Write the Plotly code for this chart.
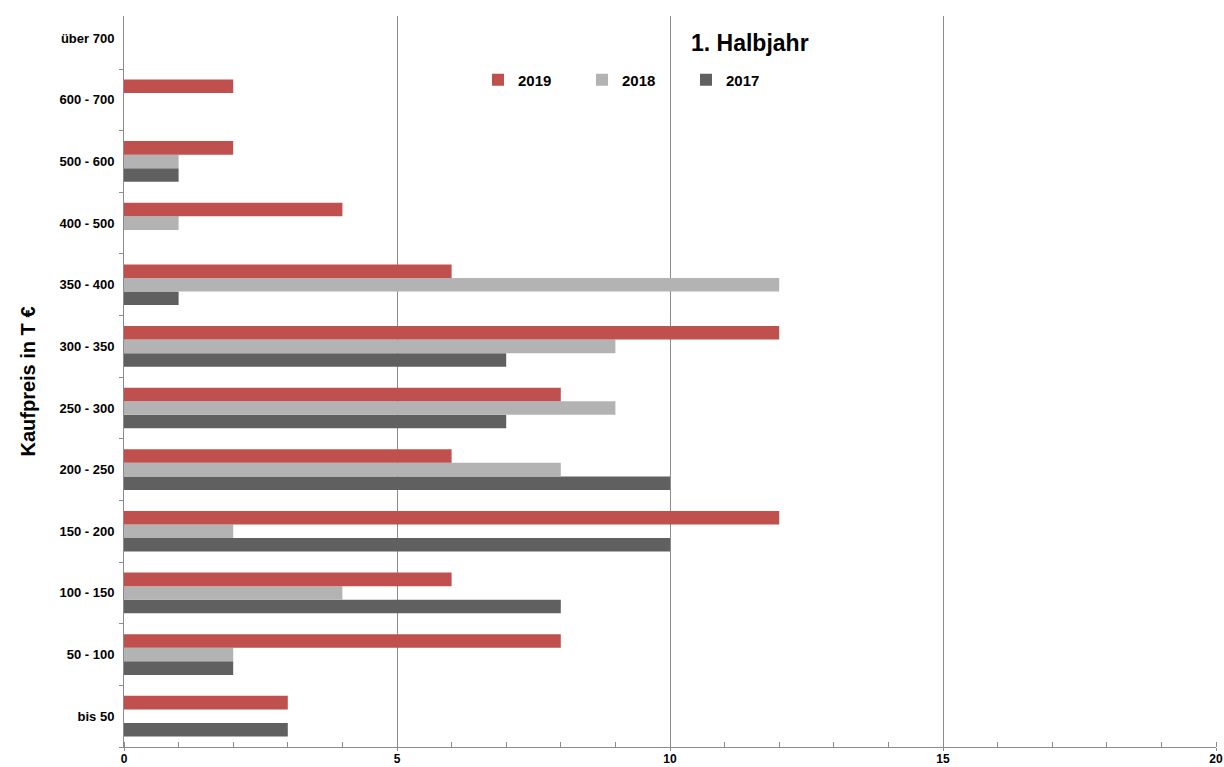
import plotly.graph_objects as go

categories = ["bis 50", "50 - 100", "100 - 150", "150 - 200", "200 - 250",
              "250 - 300", "300 - 350", "350 - 400", "400 - 500", "500 - 600",
              "600 - 700", "über 700"]
values_2019 = [3, 8, 6, 12, 6, 8, 12, 6, 4, 2, 2, 0]
values_2018 = [0, 2, 4, 2, 8, 9, 9, 12, 1, 1, 0, 0]
values_2017 = [3, 2, 8, 10, 10, 7, 7, 1, 0, 1, 0, 0]

series = [
    ("2017", values_2017, "#606060"),
    ("2018", values_2018, "#B3B3B3"),
    ("2019", values_2019, "#C0504D"),
]

W, H = 1224, 767
L, R, T, B = 124, 8, 16, 20
plot_w, plot_h = W - L - R, H - T - B

fig = go.Figure()
for name, vals, color in series:
    fig.add_trace(go.Bar(
        y=categories, x=vals, name=name, orientation="h",
        marker=dict(color=color, line=dict(width=0)),
    ))

fig.update_layout(
    width=W, height=H,
    margin=dict(l=L, r=R, t=T, b=B),
    paper_bgcolor="white", plot_bgcolor="white",
    barmode="group", bargap=0.34, bargroupgap=0,
    font=dict(family="Liberation Sans, Arial, sans-serif", color="black"),
    legend=dict(
        orientation="h", traceorder="reversed",
        x=(478 - L) / plot_w, y=1 - (80 - T) / plot_h,
        xanchor="left", yanchor="middle",
        font=dict(size=15, weight="bold"),
        itemwidth=30, entrywidth=59, bgcolor="rgba(0,0,0,0)",
    ),
    annotations=[dict(
        text="<b>1. Halbjahr</b>",
        x=(750 - L) / plot_w, y=1 - (43 - T) / plot_h,
        xref="paper", yref="paper", xanchor="center", yanchor="middle",
        showarrow=False, font=dict(size=23),
    )],
    showlegend=True,
)

fig.update_xaxes(
    range=[0, 20], dtick=5, showgrid=True, gridcolor="#8C8C8C", gridwidth=1,
    zeroline=False, showline=True, linecolor="#8C8C8C", linewidth=1,
    ticks="outside", ticklen=3, tickcolor="#8C8C8C",
    tickfont=dict(size=12, weight="bold"), ticklabelstandoff=-2,
    minor=dict(dtick=1, ticks="inside", ticklen=5, tickcolor="#8C8C8C", showgrid=False),
    automargin=False,
)
fig.update_yaxes(
    type="category", categoryorder="array", categoryarray=categories,
    range=[-0.5, 11.36],
    showline=True, linecolor="#8C8C8C", linewidth=1,
    ticks="outside", tickson="boundaries", ticklen=4, tickcolor="#8C8C8C",
    tickfont=dict(size=13, weight="bold"), ticklabelstandoff=6,
    showgrid=False, automargin=False,
    title=dict(text="Kaufpreis in T €", font=dict(size=20, weight="bold"), standoff=18),
)

fig.write_html("out.html")
